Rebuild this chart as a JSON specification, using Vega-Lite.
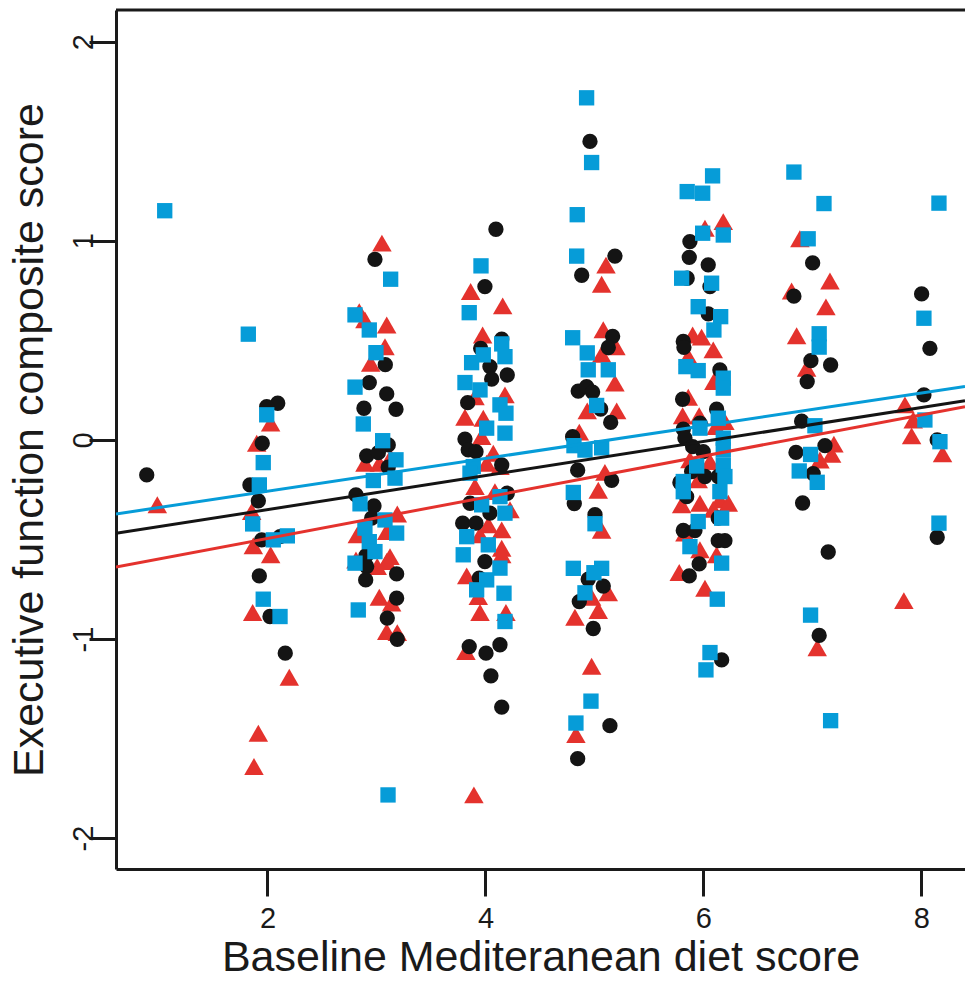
{
  "$schema": "https://vega.github.io/schema/vega-lite/v6.json",
  "width": 849,
  "height": 859,
  "autosize": {"type": "none"},
  "padding": {"left": 116, "top": 10, "right": 0, "bottom": 112},
  "background": "white",
  "config": {
    "view": {"stroke": null},
    "font": "Liberation Sans",
    "axis": {"labelFont": "Liberation Sans", "titleFont": "Liberation Sans", "grid": false,
      "domain": true, "domainColor": "#1a1a1a", "domainWidth": 3,
      "ticks": true, "tickColor": "#1a1a1a", "tickWidth": 3, "tickSize": 27,
      "labelFontSize": 29, "labelColor": "#1a1a1a", "labelExpr": "'' + datum.value",
      "titleFontSize": 43, "titleFontWeight": "normal", "titleColor": "#1a1a1a"},
    "axisX": {"labelPadding": 8, "titlePadding": 3},
    "axisY": {"labelAngle": 270, "labelAlign": "center", "labelBaseline": "alphabetic", "labelPadding": -3, "titlePadding": 18}
  },
  "datasets": {
    "points": [
      {"g":"Group 2","x":0.989,"y":-0.326},
      {"g":"Group 2","x":2.029,"y":0.084},{"g":"Group 2","x":1.901,"y":-0.017},{"g":"Group 2","x":1.855,"y":-0.36},{"g":"Group 2","x":1.87,"y":-0.532},{"g":"Group 2","x":2.029,"y":-0.577},{"g":"Group 2","x":1.864,"y":-0.867},{"g":"Group 2","x":2.2,"y":-1.192},{"g":"Group 2","x":1.916,"y":-1.473},{"g":"Group 2","x":1.876,"y":-1.64},
      {"g":"Group 2","x":3.05,"y":0.988},{"g":"Group 2","x":2.842,"y":0.644},{"g":"Group 2","x":2.894,"y":0.603},{"g":"Group 2","x":3.094,"y":0.577},{"g":"Group 2","x":3.078,"y":0.468},{"g":"Group 2","x":2.947,"y":0.385},{"g":"Group 2","x":2.894,"y":-0.117},{"g":"Group 2","x":3.026,"y":-0.117},{"g":"Group 2","x":3.13,"y":-0.087},{"g":"Group 2","x":3.191,"y":-0.372},{"g":"Group 2","x":3.094,"y":-0.46},{"g":"Group 2","x":2.824,"y":-0.477},{"g":"Group 2","x":2.812,"y":-0.603},{"g":"Group 2","x":3.007,"y":-0.636},{"g":"Group 2","x":3.124,"y":-0.586},{"g":"Group 2","x":3.094,"y":-0.611},{"g":"Group 2","x":3.026,"y":-0.79},{"g":"Group 2","x":3.139,"y":-0.82},{"g":"Group 2","x":3.094,"y":-0.963},{"g":"Group 2","x":3.191,"y":-0.968},
      {"g":"Group 2","x":3.864,"y":0.745},{"g":"Group 2","x":4.158,"y":0.673},{"g":"Group 2","x":3.974,"y":0.527},{"g":"Group 2","x":4.179,"y":0.226},{"g":"Group 2","x":3.904,"y":0.217},{"g":"Group 2","x":3.812,"y":0.114},{"g":"Group 2","x":3.98,"y":0.109},{"g":"Group 2","x":3.965,"y":0.017},{"g":"Group 2","x":4.072,"y":-0.067},{"g":"Group 2","x":4.011,"y":-0.117},{"g":"Group 2","x":4.133,"y":-0.134},{"g":"Group 2","x":3.904,"y":-0.234},{"g":"Group 2","x":4.087,"y":-0.26},{"g":"Group 2","x":4.225,"y":-0.351},{"g":"Group 2","x":4.026,"y":-0.427},{"g":"Group 2","x":3.95,"y":-0.477},{"g":"Group 2","x":4.149,"y":-0.452},{"g":"Group 2","x":4.149,"y":-0.544},{"g":"Group 2","x":4.149,"y":-0.577},{"g":"Group 2","x":3.828,"y":-0.683},{"g":"Group 2","x":3.934,"y":-0.787},{"g":"Group 2","x":3.95,"y":-0.867},{"g":"Group 2","x":4.188,"y":-0.867},{"g":"Group 2","x":3.821,"y":-1.063},{"g":"Group 2","x":3.894,"y":-1.783},
      {"g":"Group 2","x":5.106,"y":0.878},{"g":"Group 2","x":5.066,"y":0.782},{"g":"Group 2","x":5.081,"y":0.553},{"g":"Group 2","x":5.197,"y":0.468},{"g":"Group 2","x":5.066,"y":0.43},{"g":"Group 2","x":5.188,"y":0.285},{"g":"Group 2","x":4.934,"y":0.146},{"g":"Group 2","x":5.204,"y":0.146},{"g":"Group 2","x":4.861,"y":0.039},{"g":"Group 2","x":5.096,"y":-0.163},{"g":"Group 2","x":5.035,"y":-0.253},{"g":"Group 2","x":5.066,"y":-0.454},{"g":"Group 2","x":5.127,"y":-0.768},{"g":"Group 2","x":4.974,"y":-0.79},{"g":"Group 2","x":5.035,"y":-0.857},{"g":"Group 2","x":4.821,"y":-0.891},{"g":"Group 2","x":4.974,"y":-1.137},{"g":"Group 2","x":4.83,"y":-1.48},
      {"g":"Group 2","x":6.014,"y":1.063},{"g":"Group 2","x":6.182,"y":1.096},{"g":"Group 2","x":5.901,"y":0.527},{"g":"Group 2","x":5.983,"y":0.516},{"g":"Group 2","x":6.09,"y":0.452},{"g":"Group 2","x":5.861,"y":0.418},{"g":"Group 2","x":6.096,"y":0.293},{"g":"Group 2","x":5.861,"y":0.214},{"g":"Group 2","x":5.809,"y":0.121},{"g":"Group 2","x":5.961,"y":0.121},{"g":"Group 2","x":6.197,"y":0.092},{"g":"Group 2","x":6.115,"y":0.067},{"g":"Group 2","x":6.06,"y":-0.109},{"g":"Group 2","x":5.876,"y":-0.1},{"g":"Group 2","x":5.952,"y":-0.201},{"g":"Group 2","x":5.8,"y":-0.326},{"g":"Group 2","x":5.968,"y":-0.318},{"g":"Group 2","x":6.151,"y":-0.301},{"g":"Group 2","x":6.228,"y":-0.318},{"g":"Group 2","x":6.09,"y":-0.348},{"g":"Group 2","x":5.83,"y":-0.468},{"g":"Group 2","x":5.968,"y":-0.552},{"g":"Group 2","x":6.121,"y":-0.577},{"g":"Group 2","x":5.778,"y":-0.666},{"g":"Group 2","x":6.014,"y":-0.745},
      {"g":"Group 2","x":6.885,"y":1.01},{"g":"Group 2","x":7.161,"y":0.798},{"g":"Group 2","x":6.809,"y":0.748},{"g":"Group 2","x":7.124,"y":0.668},{"g":"Group 2","x":6.855,"y":0.523},{"g":"Group 2","x":6.947,"y":0.36},{"g":"Group 2","x":7.197,"y":-0.021},{"g":"Group 2","x":7.176,"y":-0.073},{"g":"Group 2","x":7.069,"y":-0.101},{"g":"Group 2","x":7.044,"y":-1.044},
      {"g":"Group 2","x":7.849,"y":0.176},{"g":"Group 2","x":7.925,"y":0.1},{"g":"Group 2","x":7.91,"y":0.02},{"g":"Group 2","x":8.194,"y":-0.07},{"g":"Group 2","x":7.839,"y":-0.807},

      {"g":"Group 1","x":0.892,"y":-0.176},
      {"g":"Group 1","x":2.094,"y":0.184},{"g":"Group 1","x":1.993,"y":0.167},{"g":"Group 1","x":1.952,"y":-0.017},{"g":"Group 1","x":1.839,"y":-0.226},{"g":"Group 1","x":1.916,"y":-0.306},{"g":"Group 1","x":1.947,"y":-0.502},{"g":"Group 1","x":2.115,"y":-0.486},{"g":"Group 1","x":1.925,"y":-0.683},{"g":"Group 1","x":2.023,"y":-0.887},{"g":"Group 1","x":2.163,"y":-1.071},
      {"g":"Group 1","x":2.986,"y":0.907},{"g":"Group 1","x":3.081,"y":0.378},{"g":"Group 1","x":2.934,"y":0.288},{"g":"Group 1","x":3.094,"y":0.231},{"g":"Group 1","x":2.885,"y":0.159},{"g":"Group 1","x":3.179,"y":0.154},{"g":"Group 1","x":3.108,"y":-0.025},{"g":"Group 1","x":2.91,"y":-0.08},{"g":"Group 1","x":3.017,"y":-0.064},{"g":"Group 1","x":3.108,"y":-0.137},{"g":"Group 1","x":2.812,"y":-0.276},{"g":"Group 1","x":2.977,"y":-0.331},{"g":"Group 1","x":2.956,"y":-0.393},{"g":"Group 1","x":2.904,"y":-0.582},{"g":"Group 1","x":2.91,"y":-0.636},{"g":"Group 1","x":3.185,"y":-0.673},{"g":"Group 1","x":2.901,"y":-0.703},{"g":"Group 1","x":3.185,"y":-0.795},{"g":"Group 1","x":3.099,"y":-0.895},{"g":"Group 1","x":3.191,"y":-1.001},
      {"g":"Group 1","x":4.096,"y":1.058},{"g":"Group 1","x":3.995,"y":0.77},{"g":"Group 1","x":4.149,"y":0.506},{"g":"Group 1","x":3.956,"y":0.46},{"g":"Group 1","x":4.041,"y":0.368},{"g":"Group 1","x":4.2,"y":0.326},{"g":"Group 1","x":4.057,"y":0.305},{"g":"Group 1","x":3.837,"y":0.187},{"g":"Group 1","x":3.812,"y":0.004},{"g":"Group 1","x":3.842,"y":-0.05},{"g":"Group 1","x":3.913,"y":-0.059},{"g":"Group 1","x":4.149,"y":-0.126},{"g":"Group 1","x":4.2,"y":-0.268},{"g":"Group 1","x":3.858,"y":-0.318},{"g":"Group 1","x":4.041,"y":-0.368},{"g":"Group 1","x":3.791,"y":-0.418},{"g":"Group 1","x":3.913,"y":-0.418},{"g":"Group 1","x":3.995,"y":-0.611},{"g":"Group 1","x":3.943,"y":-0.694},{"g":"Group 1","x":3.851,"y":-1.038},{"g":"Group 1","x":4.005,"y":-1.071},{"g":"Group 1","x":4.133,"y":-1.029},{"g":"Group 1","x":4.05,"y":-1.185},{"g":"Group 1","x":4.149,"y":-1.342},
      {"g":"Group 1","x":4.959,"y":1.499},{"g":"Group 1","x":5.188,"y":0.923},{"g":"Group 1","x":4.883,"y":0.827},{"g":"Group 1","x":5.167,"y":0.52},{"g":"Group 1","x":5.127,"y":0.464},{"g":"Group 1","x":4.851,"y":0.245},{"g":"Group 1","x":4.928,"y":0.267},{"g":"Group 1","x":4.983,"y":0.24},{"g":"Group 1","x":5.057,"y":0.155},{"g":"Group 1","x":5.149,"y":0.088},{"g":"Group 1","x":4.8,"y":0.016},{"g":"Group 1","x":4.846,"y":-0.152},{"g":"Group 1","x":5.158,"y":-0.203},{"g":"Group 1","x":4.815,"y":-0.32},{"g":"Group 1","x":5.005,"y":-0.376},{"g":"Group 1","x":4.943,"y":-0.7},{"g":"Group 1","x":5.081,"y":-0.734},{"g":"Group 1","x":4.861,"y":-0.812},{"g":"Group 1","x":4.989,"y":-0.947},{"g":"Group 1","x":5.142,"y":-1.435},{"g":"Group 1","x":4.846,"y":-1.601},
      {"g":"Group 1","x":5.876,"y":0.996},{"g":"Group 1","x":5.87,"y":0.917},{"g":"Group 1","x":6.044,"y":0.879},{"g":"Group 1","x":5.851,"y":0.812},{"g":"Group 1","x":6.06,"y":0.77},{"g":"Group 1","x":6.044,"y":0.633},{"g":"Group 1","x":5.815,"y":0.494},{"g":"Group 1","x":5.821,"y":0.465},{"g":"Group 1","x":6.151,"y":0.351},{"g":"Group 1","x":5.809,"y":0.204},{"g":"Group 1","x":6.121,"y":0.154},{"g":"Group 1","x":5.968,"y":0.084},{"g":"Group 1","x":5.815,"y":0.054},{"g":"Group 1","x":5.83,"y":0.009},{"g":"Group 1","x":5.901,"y":-0.034},{"g":"Group 1","x":5.998,"y":-0.059},{"g":"Group 1","x":5.892,"y":-0.159},{"g":"Group 1","x":6.014,"y":-0.184},{"g":"Group 1","x":6.136,"y":-0.184},{"g":"Group 1","x":5.784,"y":-0.214},{"g":"Group 1","x":5.846,"y":-0.285},{"g":"Group 1","x":6.136,"y":-0.393},{"g":"Group 1","x":5.815,"y":-0.455},{"g":"Group 1","x":5.922,"y":-0.455},{"g":"Group 1","x":6.136,"y":-0.506},{"g":"Group 1","x":6.197,"y":-0.506},{"g":"Group 1","x":5.961,"y":-0.623},{"g":"Group 1","x":5.87,"y":-0.683},{"g":"Group 1","x":6.167,"y":-1.105},
      {"g":"Group 1","x":7.002,"y":0.889},{"g":"Group 1","x":6.83,"y":0.722},{"g":"Group 1","x":6.986,"y":0.398},{"g":"Group 1","x":7.167,"y":0.376},{"g":"Group 1","x":6.952,"y":0.293},{"g":"Group 1","x":6.901,"y":0.094},{"g":"Group 1","x":6.849,"y":-0.063},{"g":"Group 1","x":7.115,"y":-0.029},{"g":"Group 1","x":7.007,"y":-0.169},{"g":"Group 1","x":6.91,"y":-0.317},{"g":"Group 1","x":7.145,"y":-0.563},{"g":"Group 1","x":7.062,"y":-0.982},
      {"g":"Group 1","x":8.002,"y":0.733},{"g":"Group 1","x":8.078,"y":0.46},{"g":"Group 1","x":8.023,"y":0.226},{"g":"Group 1","x":8.145,"y":0.0},{"g":"Group 1","x":8.145,"y":-0.489},

      {"g":"Group 3","x":1.057,"y":1.151},
      {"g":"Group 3","x":1.824,"y":0.531},{"g":"Group 3","x":1.993,"y":0.126},{"g":"Group 3","x":1.961,"y":-0.114},{"g":"Group 3","x":1.925,"y":-0.226},{"g":"Group 3","x":1.864,"y":-0.422},{"g":"Group 3","x":2.053,"y":-0.502},{"g":"Group 3","x":2.182,"y":-0.482},{"g":"Group 3","x":1.961,"y":-0.8},{"g":"Group 3","x":2.115,"y":-0.887},
      {"g":"Group 3","x":3.13,"y":0.807},{"g":"Group 3","x":2.803,"y":0.628},{"g":"Group 3","x":2.934,"y":0.552},{"g":"Group 3","x":2.995,"y":0.438},{"g":"Group 3","x":2.803,"y":0.265},{"g":"Group 3","x":2.879,"y":0.08},{"g":"Group 3","x":3.057,"y":-0.004},{"g":"Group 3","x":3.179,"y":-0.1},{"g":"Group 3","x":3.17,"y":-0.192},{"g":"Group 3","x":2.971,"y":-0.204},{"g":"Group 3","x":2.849,"y":-0.321},{"g":"Group 3","x":3.078,"y":-0.402},{"g":"Group 3","x":3.185,"y":-0.468},{"g":"Group 3","x":2.894,"y":-0.443},{"g":"Group 3","x":2.934,"y":-0.511},{"g":"Group 3","x":2.986,"y":-0.561},{"g":"Group 3","x":2.803,"y":-0.619},{"g":"Group 3","x":2.833,"y":-0.854},{"g":"Group 3","x":3.106,"y":-1.783},
      {"g":"Group 3","x":3.959,"y":0.874},{"g":"Group 3","x":3.851,"y":0.639},{"g":"Group 3","x":4.149,"y":0.482},{"g":"Group 3","x":3.98,"y":0.427},{"g":"Group 3","x":4.179,"y":0.418},{"g":"Group 3","x":3.873,"y":0.388},{"g":"Group 3","x":3.812,"y":0.288},{"g":"Group 3","x":3.95,"y":0.251},{"g":"Group 3","x":4.133,"y":0.176},{"g":"Group 3","x":4.188,"y":0.134},{"g":"Group 3","x":4.011,"y":0.059},{"g":"Group 3","x":4.179,"y":0.034},{"g":"Group 3","x":3.888,"y":-0.134},{"g":"Group 3","x":3.858,"y":-0.167},{"g":"Group 3","x":4.133,"y":-0.285},{"g":"Group 3","x":3.965,"y":-0.326},{"g":"Group 3","x":4.179,"y":-0.368},{"g":"Group 3","x":3.828,"y":-0.486},{"g":"Group 3","x":4.026,"y":-0.527},{"g":"Group 3","x":3.796,"y":-0.577},{"g":"Group 3","x":4.133,"y":-0.644},{"g":"Group 3","x":4.011,"y":-0.703},{"g":"Group 3","x":3.919,"y":-0.753},{"g":"Group 3","x":4.17,"y":-0.77},{"g":"Group 3","x":4.179,"y":-0.912},
      {"g":"Group 3","x":4.928,"y":1.718},{"g":"Group 3","x":4.974,"y":1.393},{"g":"Group 3","x":4.842,"y":1.131},{"g":"Group 3","x":4.837,"y":0.923},{"g":"Group 3","x":4.8,"y":0.513},{"g":"Group 3","x":4.934,"y":0.437},{"g":"Group 3","x":4.943,"y":0.352},{"g":"Group 3","x":5.127,"y":0.352},{"g":"Group 3","x":5.02,"y":0.173},{"g":"Group 3","x":4.812,"y":-0.029},{"g":"Group 3","x":4.913,"y":-0.051},{"g":"Group 3","x":5.066,"y":-0.04},{"g":"Group 3","x":4.806,"y":-0.264},{"g":"Group 3","x":5.005,"y":-0.421},{"g":"Group 3","x":4.806,"y":-0.645},{"g":"Group 3","x":5.066,"y":-0.645},{"g":"Group 3","x":4.995,"y":-0.667},{"g":"Group 3","x":4.913,"y":-0.768},{"g":"Group 3","x":4.968,"y":-1.312},{"g":"Group 3","x":4.83,"y":-1.422},
      {"g":"Group 3","x":6.084,"y":1.326},{"g":"Group 3","x":5.851,"y":1.247},{"g":"Group 3","x":5.993,"y":1.239},{"g":"Group 3","x":5.993,"y":1.038},{"g":"Group 3","x":6.182,"y":1.029},{"g":"Group 3","x":5.8,"y":0.812},{"g":"Group 3","x":6.075,"y":0.787},{"g":"Group 3","x":5.952,"y":0.669},{"g":"Group 3","x":6.158,"y":0.619},{"g":"Group 3","x":6.096,"y":0.552},{"g":"Group 3","x":5.839,"y":0.368},{"g":"Group 3","x":5.952,"y":0.348},{"g":"Group 3","x":6.182,"y":0.31},{"g":"Group 3","x":6.182,"y":0.26},{"g":"Group 3","x":6.136,"y":0.109},{"g":"Group 3","x":5.968,"y":0.059},{"g":"Group 3","x":6.182,"y":0.009},{"g":"Group 3","x":6.182,"y":-0.05},{"g":"Group 3","x":5.938,"y":-0.131},{"g":"Group 3","x":6.182,"y":-0.126},{"g":"Group 3","x":6.197,"y":-0.184},{"g":"Group 3","x":5.815,"y":-0.209},{"g":"Group 3","x":5.815,"y":-0.26},{"g":"Group 3","x":6.151,"y":-0.26},{"g":"Group 3","x":5.952,"y":-0.41},{"g":"Group 3","x":6.167,"y":-0.393},{"g":"Group 3","x":5.876,"y":-0.536},{"g":"Group 3","x":6.167,"y":-0.619},{"g":"Group 3","x":6.127,"y":-0.8},{"g":"Group 3","x":6.06,"y":-1.068},{"g":"Group 3","x":6.023,"y":-1.155},
      {"g":"Group 3","x":6.83,"y":1.345},{"g":"Group 3","x":7.106,"y":1.187},{"g":"Group 3","x":6.961,"y":1.01},{"g":"Group 3","x":7.062,"y":0.533},{"g":"Group 3","x":7.062,"y":0.466},{"g":"Group 3","x":7.023,"y":0.071},{"g":"Group 3","x":6.983,"y":-0.073},{"g":"Group 3","x":6.879,"y":-0.156},{"g":"Group 3","x":7.044,"y":-0.213},{"g":"Group 3","x":6.983,"y":-0.88},{"g":"Group 3","x":7.167,"y":-1.41},
      {"g":"Group 3","x":8.161,"y":1.189},{"g":"Group 3","x":8.023,"y":0.611},{"g":"Group 3","x":8.032,"y":0.1},{"g":"Group 3","x":8.17,"y":-0.009},{"g":"Group 3","x":8.161,"y":-0.418}
    ],
    "fits": [
      {"g":"Group 1","x":0.61,"y":-0.469},{"g":"Group 1","x":8.4,"y":0.197},
      {"g":"Group 2","x":0.61,"y":-0.639},{"g":"Group 2","x":8.4,"y":0.167},
      {"g":"Group 3","x":0.61,"y":-0.372},{"g":"Group 3","x":8.4,"y":0.268}
    ]
  },
  "layer": [
    {
      "data": {"name": "points"},
      "transform": [{"filter": "datum.g === 'Group 2'"}],
      "mark": {"type": "point", "filled": true, "opacity": 1, "size": 380, "strokeWidth": 0},
      "encoding": {
        "x": {"field": "x", "type": "quantitative", "scale": {"domain": [0.61, 8.4], "nice": false, "zero": false},
          "axis": {"values": [2, 4, 6, 8], "title": "Baseline Mediteranean diet score"}},
        "y": {"field": "y", "type": "quantitative", "scale": {"domain": [-2.155, 2.159], "nice": false, "zero": false},
          "axis": {"values": [-2, -1, 0, 1, 2], "title": "Executive function composite score"}},
        "color": {"field": "g", "type": "nominal", "scale": {"domain": ["Group 1", "Group 2", "Group 3"], "range": ["#141414", "#E4322D", "#069CD8"]}, "legend": null},
        "shape": {"field": "g", "type": "nominal", "scale": {"domain": ["Group 1", "Group 2", "Group 3"], "range": ["circle", "triangle-up", "square"]}, "legend": null}
      }
    },
    {
      "data": {"name": "points"},
      "transform": [{"filter": "datum.g !== 'Group 2'"}],
      "mark": {"type": "point", "filled": true, "opacity": 1, "size": 235, "strokeWidth": 0},
      "encoding": {
        "x": {"field": "x", "type": "quantitative", "axis": {"values": [2, 4, 6, 8], "title": "Baseline Mediteranean diet score"}},
        "y": {"field": "y", "type": "quantitative", "axis": {"values": [-2, -1, 0, 1, 2], "title": "Executive function composite score"}},
        "color": {"field": "g", "type": "nominal", "legend": null},
        "shape": {"field": "g", "type": "nominal", "legend": null}
      }
    },
    {
      "data": {"name": "fits"},
      "mark": {"type": "line", "strokeWidth": 3, "clip": true},
      "encoding": {
        "x": {"field": "x", "type": "quantitative", "axis": {"values": [2, 4, 6, 8], "title": "Baseline Mediteranean diet score"}},
        "y": {"field": "y", "type": "quantitative", "axis": {"values": [-2, -1, 0, 1, 2], "title": "Executive function composite score"}},
        "color": {"field": "g", "type": "nominal", "legend": null}
      }
    },
    {
      "data": {"values": [{"edge": 2.159}]},
      "mark": {"type": "rule", "color": "#1a1a1a", "strokeWidth": 3},
      "encoding": {
        "y": {"field": "edge", "type": "quantitative", "axis": {"values": [-2, -1, 0, 1, 2], "title": "Executive function composite score"}}
      }
    }
  ]
}
